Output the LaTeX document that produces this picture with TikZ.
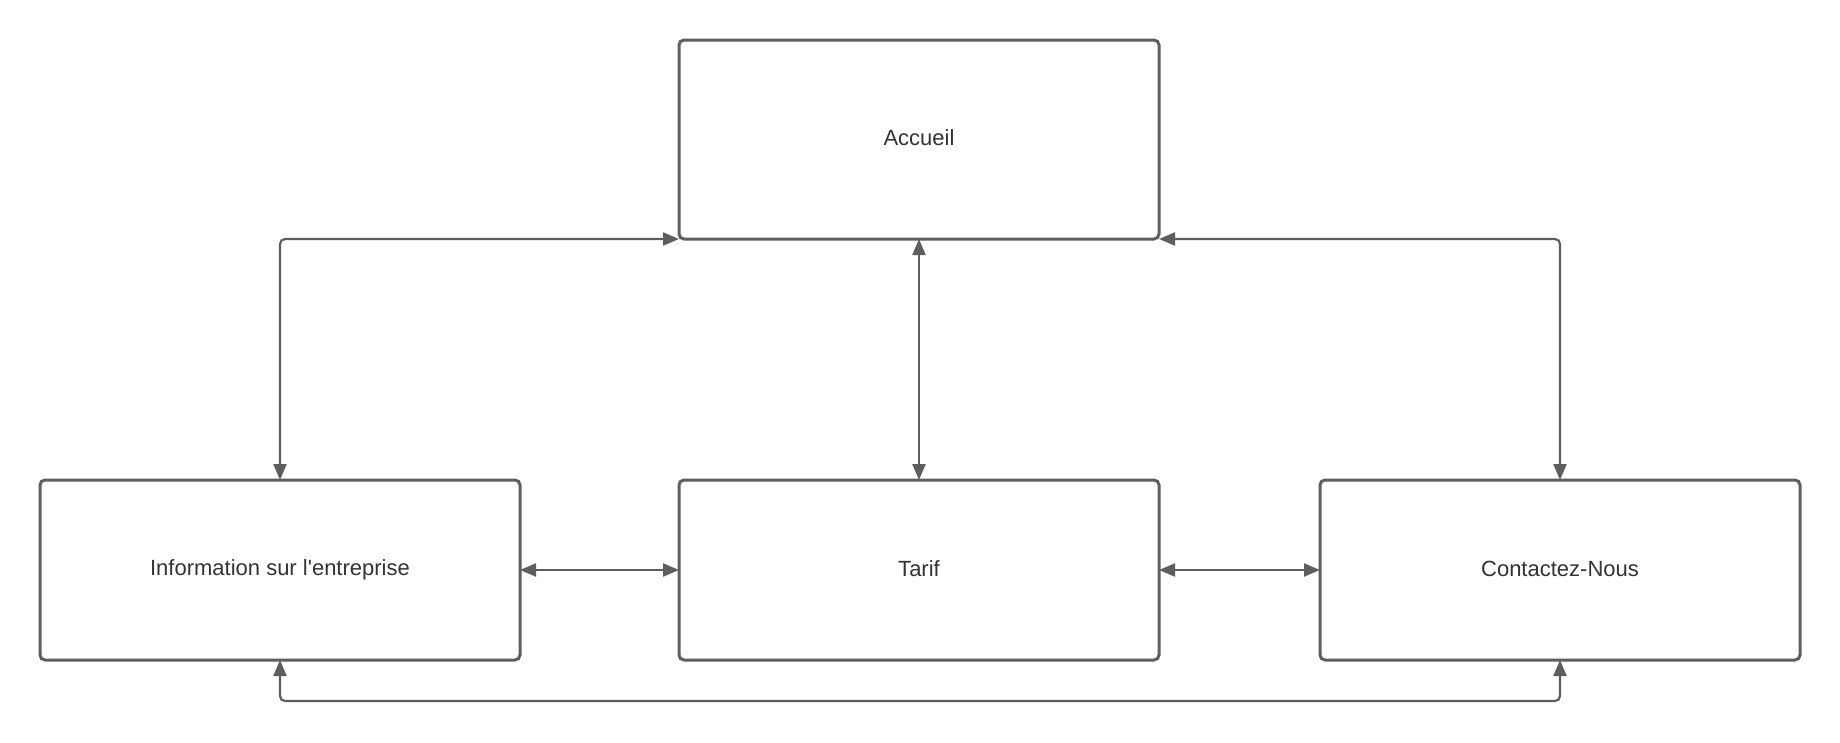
\documentclass[tikz,border=0pt]{standalone}
\usepackage{fontspec}
\setmainfont{Liberation Sans}[Ligatures=TeXOff]
\usetikzlibrary{arrows.meta}
\definecolor{linegray}{HTML}{5E5E5E}
\definecolor{textgray}{HTML}{333333}
\tikzset{
  pagebox/.style={draw=linegray, line width=3pt, rounded corners=5pt, fill=white,
    minimum width=480pt, minimum height=180pt, inner sep=0pt, outer sep=0pt,
    text=textgray, font=\fontsize{22}{26}\selectfont},
  conn/.style={draw=linegray, line width=2.2pt, rounded corners=5pt,
    {Triangle[length=16pt,width=13pt]}-{Triangle[length=16pt,width=13pt]}}
}
\newcommand{\uplabel}[1]{\raisebox{3pt}{#1}}
\begin{document}
\begin{tikzpicture}[x=1pt,y=-1pt]
\useasboundingbox (0,0) rectangle (1840,742);
\node[pagebox, minimum height=199pt] (acc) at (919,139.5) {\uplabel{Accueil}};
\node[pagebox] (info) at (280,570) {\uplabel{Information sur l'entreprise}};
\node[pagebox] (tarif) at (919,570) {\uplabel{Tarif}};
\node[pagebox] (cont) at (1560,570) {\uplabel{Contactez-Nous}};
\coordinate (bot) at (0,701);
\draw[conn] (info.north) |- (acc.south west);
\draw[conn] (acc.south) -- (tarif.north);
\draw[conn] (acc.south east) -| (cont.north);
\draw[conn] (info.east) -- (tarif.west);
\draw[conn] (tarif.east) -- (cont.west);
\draw[conn] (info.south) |- (bot -| cont.south) -- (cont.south);
\end{tikzpicture}
\end{document}
